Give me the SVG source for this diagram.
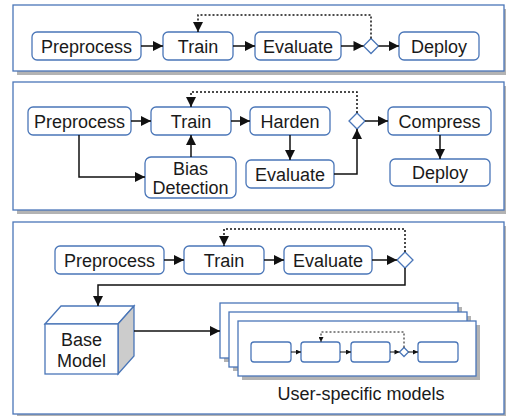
<svg xmlns="http://www.w3.org/2000/svg" width="506" height="416" viewBox="0 0 506 416">
  <style>
    .panel { fill: #ffffff; stroke: #4a76b8; stroke-width: 1.3; }
    .shadow { fill: #b3b3b3; stroke: none; }
    .node { fill: #ffffff; stroke: #4a76b8; stroke-width: 1.3; }
    .gate { fill: #ffffff; stroke: #4a76b8; stroke-width: 1.3; }
    .label { font-family: "Liberation Sans", Arial, sans-serif; font-size: 18px; fill: #1a1a1a; text-anchor: middle; }
    .edge { fill: none; stroke: #111111; stroke-width: 1.5; }
    .loop { fill: none; stroke: #111111; stroke-width: 1.5; stroke-dasharray: 2 2; }
    .edge-s { fill: none; stroke: #111111; stroke-width: 1; }
    .loop-s { fill: none; stroke: #111111; stroke-width: 1; stroke-dasharray: 2 2; }
  </style>
  <defs>
    <marker id="arrow" viewBox="0 0 10 10" refX="10" refY="5" markerUnits="userSpaceOnUse" markerWidth="11" markerHeight="10" orient="auto">
      <path d="M0,0 L10,5 L0,10 z" fill="#111111"/>
    </marker>
    <marker id="arrow-s" viewBox="0 0 10 10" refX="10" refY="5" markerUnits="userSpaceOnUse" markerWidth="6" markerHeight="5" orient="auto">
      <path d="M0,0 L10,5 L0,10 z" fill="#111111"/>
    </marker>
  </defs>

  <!-- panel frames -->
  <g id="panels">
    <rect class="shadow" x="17" y="9" width="491" height="66"/>
    <rect class="panel" x="13" y="5" width="491" height="66"/>
    <rect class="shadow" x="17" y="86" width="491" height="128"/>
    <rect class="panel" x="13" y="82" width="491" height="128"/>
    <rect class="shadow" x="17" y="226" width="491" height="192"/>
    <rect class="panel" x="13" y="222" width="491" height="192"/>
  </g>

  <!-- pipeline 1 -->
  <g id="p1-preprocess"><rect class="node" x="32" y="32" width="109" height="28" rx="5"/><text class="label" x="86.5" y="52.5">Preprocess</text></g>
  <g id="p1-train"><rect class="node" x="163" y="32" width="70" height="28" rx="5"/><text class="label" x="198" y="52.5">Train</text></g>
  <g id="p1-evaluate"><rect class="node" x="255" y="32" width="86" height="28" rx="5"/><text class="label" x="298" y="52.5">Evaluate</text></g>
  <g id="p1-gate"><polygon class="gate" points="371,38.5 378.5,46 371,53.5 363.5,46"/></g>
  <g id="p1-deploy"><rect class="node" x="399" y="32" width="80" height="28" rx="5"/><text class="label" x="439" y="52.5">Deploy</text></g>

  <!-- pipeline 2 -->
  <g id="p2-preprocess"><rect class="node" x="28" y="107" width="103" height="28" rx="5"/><text class="label" x="79.5" y="127.5">Preprocess</text></g>
  <g id="p2-train"><rect class="node" x="151" y="107" width="80" height="28" rx="5"/><text class="label" x="191" y="127.5">Train</text></g>
  <g id="p2-bias"><rect class="node" x="145" y="157" width="91" height="41" rx="6"/><text class="label" x="190.5" y="174.5">Bias</text><text class="label" x="190.5" y="193.5">Detection</text></g>
  <g id="p2-harden"><rect class="node" x="250" y="107" width="80" height="28" rx="5"/><text class="label" x="290" y="127.5">Harden</text></g>
  <g id="p2-evaluate"><rect class="node" x="246" y="160" width="88" height="28" rx="5"/><text class="label" x="290" y="180.5">Evaluate</text></g>
  <g id="p2-gate"><polygon class="gate" points="357,113 365,121 357,129 349,121"/></g>
  <g id="p2-compress"><rect class="node" x="388" y="107" width="103" height="28" rx="5"/><text class="label" x="439.5" y="127.5">Compress</text></g>
  <g id="p2-deploy"><rect class="node" x="390" y="159" width="100" height="27" rx="5"/><text class="label" x="440" y="179">Deploy</text></g>

  <!-- pipeline 3 -->
  <g id="p3-preprocess"><rect class="node" x="55" y="246" width="109" height="28" rx="5"/><text class="label" x="109.5" y="266.5">Preprocess</text></g>
  <g id="p3-train"><rect class="node" x="184" y="246" width="80" height="28" rx="5"/><text class="label" x="224" y="266.5">Train</text></g>
  <g id="p3-evaluate"><rect class="node" x="284" y="246" width="88" height="28" rx="5"/><text class="label" x="328" y="266.5">Evaluate</text></g>
  <g id="p3-gate"><polygon class="gate" points="405,252 413,260 405,268 397,260"/></g>

  <g id="p3-base-model">
    <polygon points="45,324 61,306 134,306 118,324" fill="#ffffff" stroke="#4a76b8" stroke-width="1.3"/>
    <polygon points="118,324 134,306 134,356 118,374" fill="#cccccc" stroke="#4a76b8" stroke-width="1.3"/>
    <rect x="45" y="324" width="73" height="50" fill="#ffffff" stroke="#4a76b8" stroke-width="1.3"/>
    <text class="label" x="81.5" y="345.5">Base</text>
    <text class="label" x="81.5" y="366.5">Model</text>
  </g>

  <g id="p3-user-models">
    <rect class="shadow" x="224" y="307" width="238" height="55"/>
    <rect class="panel" x="220" y="303" width="238" height="55"/>
    <rect class="shadow" x="233" y="316" width="238" height="55"/>
    <rect class="panel" x="229" y="312" width="238" height="55"/>
    <rect class="shadow" x="242" y="325" width="238" height="55"/>
    <rect class="panel" x="238" y="321" width="238" height="55"/>
    <!-- miniature pipeline -->
    <rect class="node" x="251" y="342" width="40" height="20" rx="3"/>
    <rect class="node" x="301" y="342" width="39" height="20" rx="3"/>
    <rect class="node" x="351" y="342" width="39" height="20" rx="3"/>
    <polygon class="gate" points="404,347.5 408.5,352 404,356.5 399.5,352"/>
    <rect class="node" x="418" y="342" width="40" height="20" rx="3"/>
    <path class="edge-s" d="M291,352 H301" marker-end="url(#arrow-s)"/>
    <path class="edge-s" d="M340,352 H351" marker-end="url(#arrow-s)"/>
    <path class="edge-s" d="M390,352 H399.5" marker-end="url(#arrow-s)"/>
    <path class="edge-s" d="M408.5,352 H418" marker-end="url(#arrow-s)"/>
    <path class="loop-s" d="M404,347.5 V332 H321 V342" marker-end="url(#arrow-s)"/>
    <text class="label" x="361" y="400">User-specific models</text>
  </g>

  <!-- connectors -->
  <g id="connectors">
    <path class="edge" d="M141,46 H163" marker-end="url(#arrow)"/>
    <path class="edge" d="M233,46 H255" marker-end="url(#arrow)"/>
    <path class="edge" d="M341,46 H363.5" marker-end="url(#arrow)"/>
    <path class="edge" d="M378.5,46 H399" marker-end="url(#arrow)"/>
    <path class="loop" d="M371,38.5 V15 H198 V32" marker-end="url(#arrow)"/>

    <path class="edge" d="M131,121 H151" marker-end="url(#arrow)"/>
    <path class="edge" d="M231,121 H250" marker-end="url(#arrow)"/>
    <path class="edge" d="M290,135 V160" marker-end="url(#arrow)"/>
    <path class="edge" d="M334,174 H357 V129" marker-end="url(#arrow)"/>
    <path class="edge" d="M365,121 H388" marker-end="url(#arrow)"/>
    <path class="edge" d="M440,135 V159" marker-end="url(#arrow)"/>
    <path class="loop" d="M357,113 V92 H191 V107" marker-end="url(#arrow)"/>
    <path class="edge" d="M79,135 V177 H145" marker-end="url(#arrow)"/>
    <path class="edge" d="M191,157 V135" marker-end="url(#arrow)"/>

    <path class="edge" d="M164,260 H184" marker-end="url(#arrow)"/>
    <path class="edge" d="M264,260 H284" marker-end="url(#arrow)"/>
    <path class="edge" d="M372,260 H397" marker-end="url(#arrow)"/>
    <path class="loop" d="M405,252 V229 H224 V246" marker-end="url(#arrow)"/>
    <path class="edge" d="M405,268 V285 H98 V306" marker-end="url(#arrow)"/>
    <path class="edge" d="M134,331 H220" marker-end="url(#arrow)"/>
  </g>
</svg>
